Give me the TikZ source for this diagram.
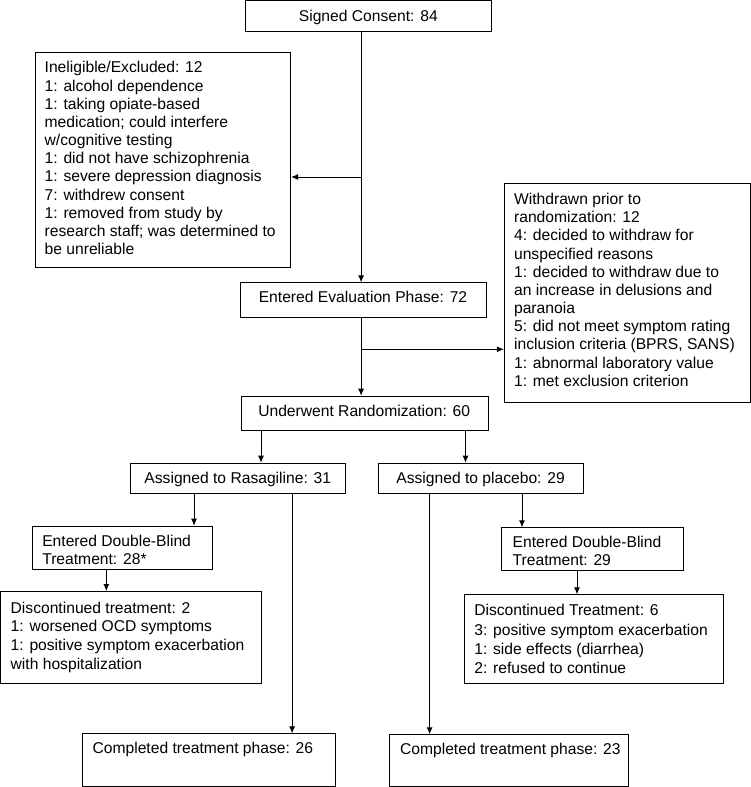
\documentclass[tikz,border=0pt]{standalone}
\usepackage{fontspec}
\setmainfont{Liberation Sans}
\usetikzlibrary{arrows.meta}
\begin{document}
\begin{tikzpicture}[x=1bp,y=-1bp,
  box/.style={draw, line width=0.9bp, inner sep=0, anchor=north west},
  txt/.style={inner sep=0, anchor=base west, align=left, font=\fontsize{15.7}{18.25}\selectfont},
  ctxt/.style={inner sep=0, anchor=base, font=\fontsize{15.7}{18.25}\selectfont},
  arr/.style={line width=0.9bp, -{Latex[length=7bp,width=6bp]}}]
\useasboundingbox (0,0) rectangle (751,787);
% boxes
\node[box, minimum width=246.2bp, minimum height=30.2bp] (consent) at (245.2,0.5) {};
\node[box, minimum width=255.7bp, minimum height=215bp] (inel) at (34.5,51.7) {};
\node[box, minimum width=245.7bp, minimum height=219bp] (wd) at (503.8,182.7) {};
\node[box, minimum width=246bp, minimum height=34.2bp] (eval) at (240,282.3) {};
\node[box, minimum width=246.5bp, minimum height=34.3bp] (rand) at (241,395.7) {};
\node[box, minimum width=215bp, minimum height=30bp] (ras) at (130.3,462.7) {};
\node[box, minimum width=205.4bp, minimum height=30.3bp] (plc) at (377.9,462.7) {};
\node[box, minimum width=180.6bp, minimum height=43.3bp] (dbl) at (31.6,525.7) {};
\node[box, minimum width=181.1bp, minimum height=42.7bp] (dbr) at (501.4,527.3) {};
\node[box, minimum width=260.5bp, minimum height=92.3bp] (dcl) at (0.5,591) {};
\node[box, minimum width=259.6bp, minimum height=89bp] (dcr) at (463.6,594.3) {};
\node[box, minimum width=252.8bp, minimum height=52.7bp] (cpl) at (82.4,733.3) {};
\node[box, minimum width=239.5bp, minimum height=51.7bp] (cpr) at (388.9,734.3) {};
% texts (base anchor = last line baseline)
\node[ctxt] (tconsent) at (368.3,21.2) {Signed Consent: 84};
\node[txt] (tinel) at (44.5,254.7) {Ineligible/Excluded: 12\\1: alcohol dependence\\1: taking opiate-based\\medication; could interfere\\w/cognitive testing\\1: did not have schizophrenia\\1: severe depression diagnosis\\7: withdrew consent\\1: removed from study by\\research staff; was determined to\\be unreliable};
\node[txt] (twd) at (513.9,386.3) {Withdrawn prior to\\randomization: 12\\4: decided to withdraw for\\unspecified reasons\\1: decided to withdraw due to\\an increase in delusions and\\paranoia\\5: did not meet symptom rating\\inclusion criteria (BPRS, SANS)\\1: abnormal laboratory value\\1: met exclusion criterion};
\node[ctxt] (teval) at (363,302.2) {Entered Evaluation Phase: 72};
\node[ctxt] (trand) at (364.2,416.5) {Underwent Randomization: 60};
\node[ctxt] (tras) at (237.8,483.8) {Assigned to Rasagiline: 31};
\node[ctxt] (tplc) at (480.6,483.8) {Assigned to placebo: 29};
\node[txt] (tdbl) at (42.1,564.75) {Entered Double-Blind\\Treatment: 28*};
\node[txt] (tdbr) at (512.5,565.75) {Entered Double-Blind\\Treatment: 29};
\node[txt, font=\fontsize{15.7}{19}\selectfont] (tdcl) at (10.5,669.8) {Discontinued treatment: 2\\1: worsened OCD symptoms\\1: positive symptom exacerbation\\with hospitalization};
\node[txt, font=\fontsize{15.7}{19.4}\selectfont] (tdcr) at (474.1,673.7) {Discontinued Treatment: 6\\3: positive symptom exacerbation\\1: side effects (diarrhea)\\2: refused to continue};
\node[txt] (tcpl) at (92.4,753.8) {Completed treatment phase: 26};
\node[txt] (tcpr) at (399.9,754.8) {Completed treatment phase: 23};
% connectors
\coordinate (sp1) at (361.1,177);
\coordinate (sp2) at (361.1,349.3);
\draw[arr] (consent.south -| sp1) -- (eval.north -| sp1);
\draw[arr] (sp1) -- (sp1 -| inel.east);
\draw[arr] (eval.south -| sp2) -- (rand.north -| sp2);
\draw[arr] (sp2) -- (sp2 -| wd.west);
\coordinate (xa) at (261,0);
\coordinate (xb) at (465.5,0);
\draw[arr] (rand.south -| xa) -- (ras.north -| xa);
\draw[arr] (rand.south -| xb) -- (plc.north -| xb);
\coordinate (xc) at (194,0);
\coordinate (xd) at (292.1,0);
\draw[arr] (ras.south -| xc) -- (dbl.north -| xc);
\draw[arr] (ras.south -| xd) -- (cpl.north -| xd);
\coordinate (xe) at (522,0);
\coordinate (xf) at (429.6,0);
\draw[arr] (plc.south -| xe) -- (dbr.north -| xe);
\draw[arr] (plc.south -| xf) -- (cpr.north -| xf);
\coordinate (xg) at (106.3,0);
\coordinate (xh) at (577,0);
\draw[arr] (dbl.south -| xg) -- (dcl.north -| xg);
\draw[arr] (dbr.south -| xh) -- (dcr.north -| xh);
\end{tikzpicture}
\end{document}
